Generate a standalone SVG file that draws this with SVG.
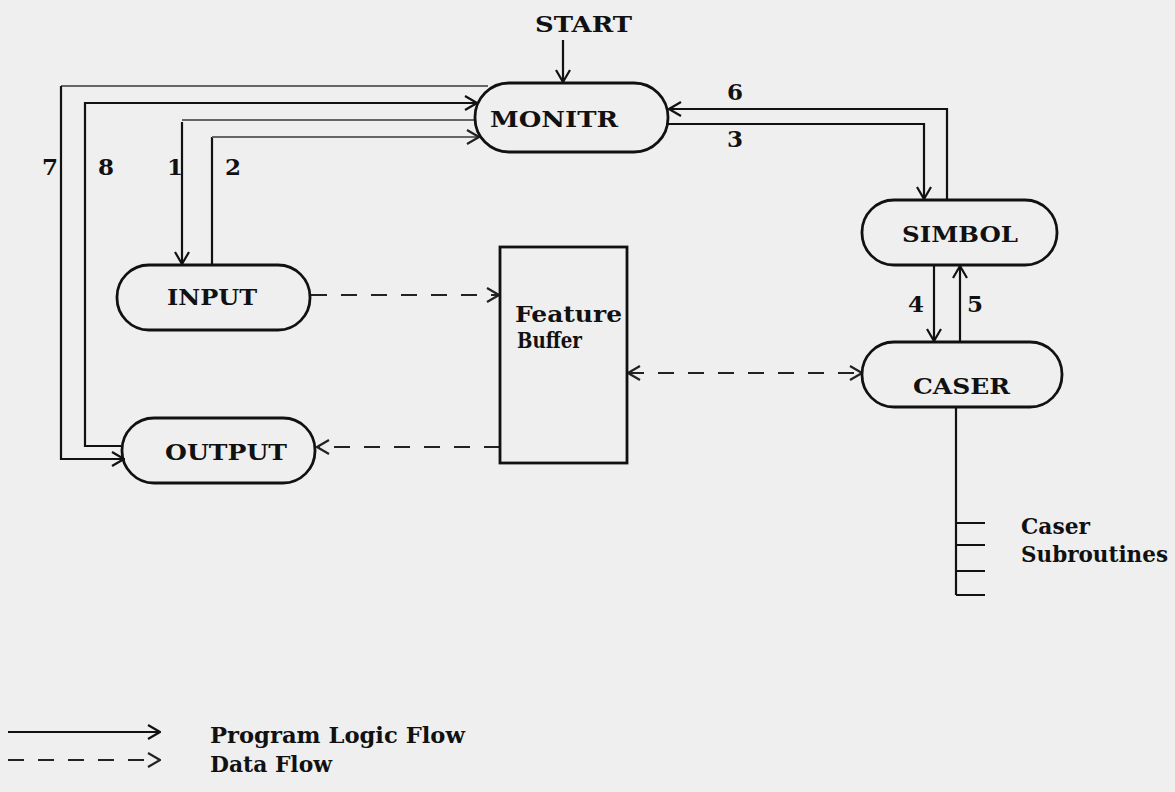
<svg xmlns="http://www.w3.org/2000/svg" width="1175" height="792" viewBox="0 0 1175 792">
<defs>
<marker id="arr" markerUnits="userSpaceOnUse" markerWidth="16" markerHeight="16" viewBox="0 0 16 16" refX="15" refY="8" orient="auto-start-reverse">
<path d="M3,1 L15,8 L3,15" fill="none" stroke="#111" stroke-width="2.2"/>
</marker>
<marker id="arrg" markerUnits="userSpaceOnUse" markerWidth="16" markerHeight="16" viewBox="0 0 16 16" refX="15" refY="8" orient="auto-start-reverse">
<path d="M3,1 L15,8 L3,15" fill="none" stroke="#222" stroke-width="2.2"/>
</marker>
</defs>
<style>
.lbl{font-family:"DejaVu Serif","Liberation Serif",serif;font-weight:bold;font-size:22px;fill:#111}
.num{font-family:"DejaVu Serif","Liberation Serif",serif;font-weight:bold;font-size:23px;fill:#111}
.pill{fill:none;stroke:#111;stroke-width:2.8}
.box{fill:none;stroke:#111;stroke-width:2.8}
.ln{fill:none;stroke:#111;stroke-width:2.2}
.faint{fill:none;stroke:#666;stroke-width:2}
.dash{fill:none;stroke:#222;stroke-width:2.2;stroke-dasharray:16 14}
</style>
<rect x="0" y="0" width="1175" height="792" fill="#efefef"/>

<g id="connectors">
<path class="ln" d="M563,40 L563,82" marker-end="url(#arr)"/>
<path class="faint" d="M488,86 L61,86"/>
<path class="ln" d="M61,86 L61,459 L124,459" marker-end="url(#arr)"/>
<path class="ln" d="M121,446 L85,446 L85,103 L477,103" marker-end="url(#arr)"/>
<path class="faint" d="M474,120 L182,120"/>
<path class="ln" d="M182,122 L182,264" marker-end="url(#arr)"/>
<path class="ln" d="M212,264 L212,137"/>
<path class="faint" d="M212,137 L479,137" marker-end="url(#arrg)"/>
<path class="ln" d="M947,200 L947,109 L669,109" marker-end="url(#arr)"/>
<path class="ln" d="M666,124 L924,124 L924,199" marker-end="url(#arr)"/>
<path class="ln" d="M934,265 L934,341" marker-end="url(#arr)"/>
<path class="ln" d="M960,342 L960,266" marker-end="url(#arr)"/>
<path class="dash" d="M311,295 L499,295" marker-end="url(#arrg)"/>
<path class="dash" d="M628,373 L862,373" marker-start="url(#arrg)" marker-end="url(#arrg)"/>
<path class="dash" d="M500,447 L317,447" marker-end="url(#arrg)"/>
<path class="ln" d="M956,407 L956,595"/>
<path class="ln" d="M956,523 L985,523 M956,545 L985,545 M956,571 L985,571 M956,595 L985,595"/>
</g>

<g id="start"><text class="lbl" x="535" y="32" textLength="97" lengthAdjust="spacingAndGlyphs">START</text></g>

<g id="monitr">
<rect class="pill" x="475" y="83" width="193" height="69" rx="34" ry="34"/>
<text class="lbl" x="490" y="127" textLength="128" lengthAdjust="spacingAndGlyphs">MONITR</text>
</g>

<g id="simbol">
<rect class="pill" x="862" y="200" width="195" height="65" rx="32" ry="32"/>
<text class="lbl" x="902" y="242" textLength="116" lengthAdjust="spacingAndGlyphs">SIMBOL</text>
</g>

<g id="caser">
<rect class="pill" x="862" y="342" width="200" height="65" rx="32" ry="32"/>
<text class="lbl" x="913" y="394" textLength="97" lengthAdjust="spacingAndGlyphs">CASER</text>
</g>

<g id="input">
<rect class="pill" x="117" y="265" width="193" height="65" rx="32" ry="32"/>
<text class="lbl" x="167" y="305" textLength="90" lengthAdjust="spacingAndGlyphs">INPUT</text>
</g>

<g id="output">
<rect class="pill" x="122" y="418" width="193" height="65" rx="32" ry="32"/>
<text class="lbl" x="165" y="460" textLength="122" lengthAdjust="spacingAndGlyphs">OUTPUT</text>
</g>

<g id="feature-buffer">
<rect class="box" x="500" y="247" width="127" height="216"/>
<text class="lbl" x="515" y="322" textLength="107" lengthAdjust="spacingAndGlyphs">Feature</text>
<text class="lbl" x="517" y="348" textLength="65" lengthAdjust="spacingAndGlyphs">Buffer</text>
</g>

<g id="caser-subroutines">
<text class="lbl" x="1021" y="534" textLength="69" lengthAdjust="spacingAndGlyphs">Caser</text>
<text class="lbl" x="1021" y="562" textLength="147" lengthAdjust="spacingAndGlyphs">Subroutines</text>
</g>

<g id="numbers">
<text class="num" x="42" y="175">7</text>
<text class="num" x="98" y="175">8</text>
<text class="num" x="167" y="175">1</text>
<text class="num" x="225" y="175">2</text>
<text class="num" x="727" y="100">6</text>
<text class="num" x="727" y="147">3</text>
<text class="num" x="908" y="312">4</text>
<text class="num" x="967" y="312">5</text>
</g>

<g id="legend">
<path class="ln" d="M8,732 L160,732" marker-end="url(#arr)"/>
<path class="dash" d="M8,760 L160,760" stroke-dasharray="8 14" marker-end="url(#arrg)"/>
<text class="lbl" x="210" y="743" textLength="255" lengthAdjust="spacingAndGlyphs">Program Logic Flow</text>
<text class="lbl" x="210" y="772" textLength="122" lengthAdjust="spacingAndGlyphs">Data Flow</text>
</g>
</svg>
